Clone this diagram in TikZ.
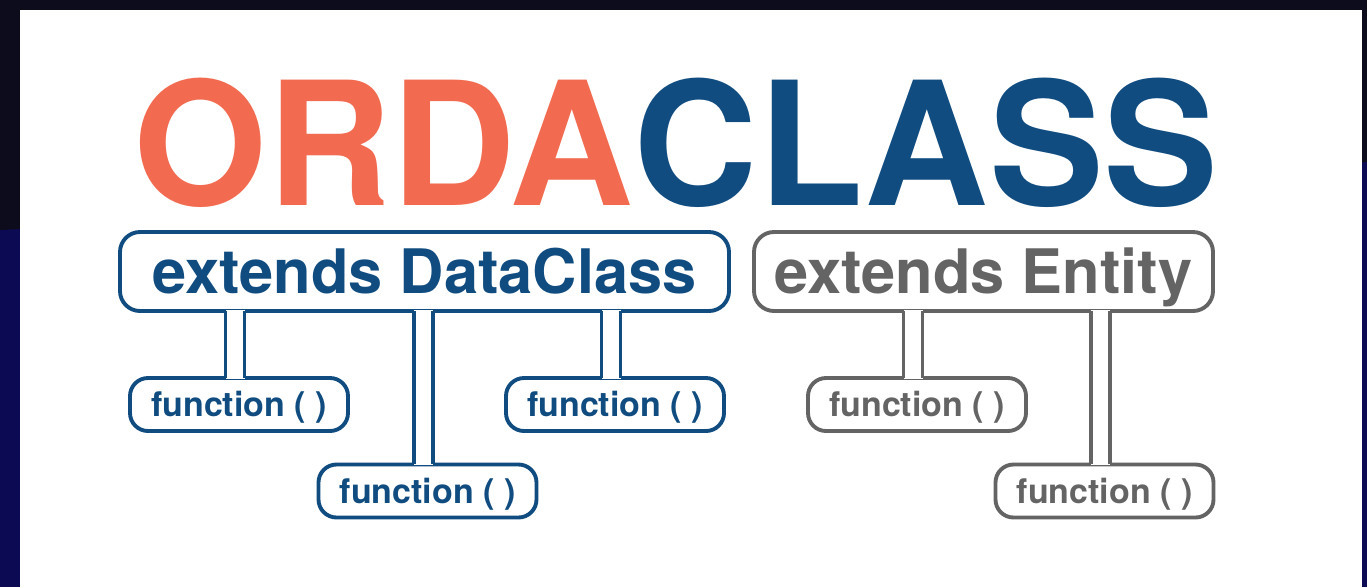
\documentclass[tikz,border=0pt]{standalone}
\usepackage{fontspec}
\setmainfont{TeX Gyre Heros}
\usepackage{tikz}
\usetikzlibrary{positioning,calc}

\definecolor{ordared}{RGB}{242,106,79}
\definecolor{ordablue}{RGB}{16,76,128}
\definecolor{entgray}{RGB}{100,100,100}
\definecolor{bgdark}{RGB}{12,12,28}
\definecolor{bgnavy}{RGB}{12,10,82}

\tikzset{
  classbox/.style={rectangle, rounded corners=15pt, draw, line width=2.9pt, fill=white,
    minimum height=59.25pt, inner sep=0pt, text height=33pt, text depth=0pt,
    font=\fontsize{46}{50}\selectfont\bfseries},
  funcbox/.style={rectangle, rounded corners=13.5pt, draw, line width=2.9pt, fill=white,
    minimum width=163.5pt, minimum height=39.75pt, inner sep=0pt, text height=18.4pt,
    text depth=0pt, font=\fontsize{25.5}{28}\selectfont\bfseries},
}

\begin{document}
\begin{tikzpicture}[x=0.75pt, y=-0.75pt]
    \useasboundingbox (0,0) rectangle (1367,587);
    % background and panel
    \fill[bgnavy] (0,0) rectangle (1367,587);
    \fill[bgdark] (0,0) -- (1367,0) -- (1367,162) -- (0,230) -- cycle;
    \fill[white] (20,10) rectangle (1362,587);

    \node[anchor=base, inner sep=0pt, font=\fontsize{129}{132}\selectfont\bfseries] (title) at (676,205)
        {\textcolor{ordared}{ORDA}\textcolor{ordablue}{CLASS}};

    \node[classbox, minimum width=456.75pt, draw=ordablue, text=ordablue] (dc)  at (424.5,271.5) {extends DataClass};
    \node[classbox, minimum width=344.25pt, draw=entgray, text=entgray]   (ent) at (983.5,271.5) {extends Entity};

    \node[funcbox, draw=ordablue, text=ordablue] (f1) at (239,404.5)  {function ( )};
    \node[funcbox, draw=ordablue, text=ordablue] (f2) at (615,404.5)  {function ( )};
    \node[funcbox, draw=ordablue, text=ordablue] (f3) at (427.5,491) {function ( )};
    \node[funcbox, draw=entgray, text=entgray]   (g1) at (917,404.5)  {function ( )};
    \node[funcbox, draw=entgray, text=entgray]   (g2) at (1104.5,491) {function ( )};

    % double-line pipes
    \foreach \up/\dn/\col in {dc/f1/ordablue, dc/f3/ordablue, dc/f2/ordablue, ent/g1/entgray, ent/g2/entgray}{
      \coordinate (p) at ($(\dn.north)+(-4,0)$);
      \fill[white] ($(p)+(-9.5,2.5)$) rectangle ($(p |- \up.south)+(9.5,-2.5)$);
      \draw[\col, line width=2.9pt] ($(p)+(-9.5,1.9)$) -- ($(p |- \up.south)+(-9.5,-1.9)$)
                                    ($(p)+(9.5,1.9)$) -- ($(p |- \up.south)+(9.5,-1.9)$);
    }
\end{tikzpicture}
\end{document}
